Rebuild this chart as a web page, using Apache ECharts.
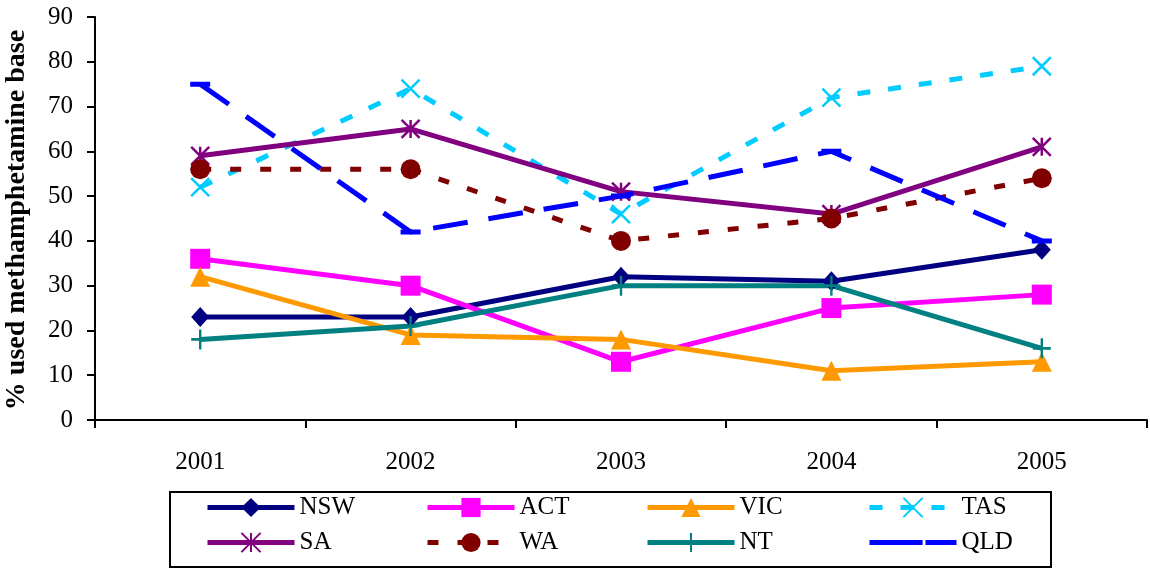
<!DOCTYPE html>
<html><head><meta charset="utf-8">
<script src="https://cdn.jsdelivr.net/npm/echarts@6/dist/echarts.min.js"></script>
<style>html,body{margin:0;padding:0;background:#fff}#c{width:1150px;height:569px}</style>
</head><body><div id="c"></div>
<script>
var years = ['2001', '2002', '2003', '2004', '2005'];
var yTicks = [0, 10, 20, 30, 40, 50, 60, 70, 80, 90];
var NSW = [23, 23, 32, 31, 38];
var ACT = [36, 30, 13, 25, 28];
var VIC = [32, 19, 18, 11, 13];
var TAS = [52, 74, 46, 72, 79];
var SA  = [59, 65, 51, 46, 61];
var WA  = [56, 56, 40, 45, 54];
var NT  = [18, 21, 30, 30, 16];
var QLD = [75, 42, 50, 60, 40];
var yTitle = '% used methamphetamine base';

var FONT = 'Liberation Serif';
var chart = echarts.init(document.getElementById('c'), null, {renderer: 'canvas'});

function mk(name, data, color, symbol, size, lineType, border) {
  return {
    name: name, type: 'line', data: data,
    symbol: symbol, symbolSize: size, showSymbol: true,
    lineStyle: {color: color, width: 5, type: lineType},
    itemStyle: {color: color, borderColor: color, borderWidth: border || 0},
    emphasis: {disabled: true}
  };
}

var X_PATH = 'path://M0,0L10,10M10,0L0,10';
var AST_PATH = 'path://M5,0L5,10M0,0L10,10M10,0L0,10';
var PLUS_PATH = 'path://M5,0L5,10M0,5L10,5';
var BAR_PATH = 'path://M0,0L0,0.01M0,7.5L20,7.5L20,12.5L0,12.5ZM20,19.99L20,20';

var series = [
  mk('NSW', NSW, '#000080', 'diamond', [18, 20], 'solid'),
  mk('ACT', ACT, '#FF00FF', 'rect', [20, 20], 'solid'),
  mk('VIC', VIC, '#FF9900', 'triangle', [20, 20], 'solid'),
  mk('TAS', TAS, '#00CCFF', X_PATH, [18, 18], [13, 18], 2.5),
  mk('SA', SA, '#800080', AST_PATH, [18, 18], 'solid', 2.5),
  mk('WA', WA, '#800000', 'circle', [20, 20], [11, 19]),
  mk('NT', NT, '#008080', PLUS_PATH, [18, 20], 'solid', 2.5),
  mk('QLD', QLD, '#0000FF', BAR_PATH, [20, 20], [35, 21])
];

var names = ['NSW', 'ACT', 'VIC', 'TAS', 'SA', 'WA', 'NT', 'QLD'];
var colLeft = [205, 425, 645, 867];
var rowTop = [495, 530];
var legends = names.map(function (n, i) {
  return {
    data: [n], left: colLeft[i % 4], top: rowTop[Math.floor(i / 4)],
    itemWidth: 87, itemHeight: 24, itemGap: 0, padding: 0,
    selectedMode: false,
    lineStyle: {width: 5},
    textStyle: {fontFamily: FONT, fontSize: 25, color: '#000', padding: [0, 0, 0, 0]}
  };
});

chart.setOption({
  animation: false,
  backgroundColor: '#fff',
  grid: {left: 95, right: 3, top: 17, bottom: 149, containLabel: false},
  legend: legends,
  xAxis: {
    type: 'category', data: years, boundaryGap: true,
    axisLine: {lineStyle: {color: '#000', width: 2}},
    axisTick: {show: true, length: 8, lineStyle: {color: '#000', width: 2}},
    axisLabel: {fontFamily: FONT, fontSize: 25, color: '#000', margin: 30},
    splitLine: {show: false}
  },
  yAxis: {
    type: 'value', min: yTicks[0], max: yTicks[yTicks.length - 1], interval: 10,
    axisLine: {show: true, lineStyle: {color: '#000', width: 2}},
    axisTick: {show: true, length: 8, lineStyle: {color: '#000', width: 2}},
    axisLabel: {fontFamily: FONT, fontSize: 25, color: '#000', margin: 22},
    splitLine: {show: false}
  },
  graphic: [
    {type: 'rect', shape: {x: 170, y: 492, width: 881, height: 75},
     style: {fill: 'none', stroke: '#000', lineWidth: 2}, z: -1},
    {type: 'text', x: 17, y: 220, rotation: Math.PI / 2,
     style: {text: yTitle, fontFamily: FONT, fontWeight: 'bold', fontSize: 28,
             fill: '#000', textAlign: 'center', textVerticalAlign: 'middle'}}
  ],
  series: series
});
</script></body></html>
